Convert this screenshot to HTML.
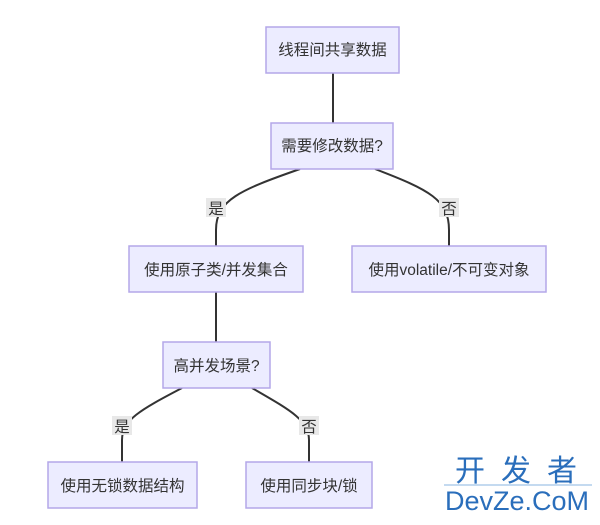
<!DOCTYPE html>
<html><head><meta charset="utf-8"><style>
body{margin:0;background:#fff;}
svg text{font-family:"Liberation Sans","Noto Sans CJK SC",sans-serif;}
</style></head><body>
<svg width="600" height="520" xmlns="http://www.w3.org/2000/svg">
<g fill="none" stroke="#333" stroke-width="2">
<path d="M333,73 V123"/>
<path d="M300,169 C240,190 216,200 216,230 V246"/>
<path d="M375,169 C430,190 449,200 449,230 V246"/>
<path d="M216,292 V342"/>
<path d="M182,388 C140,410 122,420 122,440 V462"/>
<path d="M252,388 C290,410 309,420 309,440 V462"/>
</g>
<g fill="#ececff" stroke="#b4a7e8" stroke-width="1.5">
<rect x="266" y="27" width="133" height="46"/>
<rect x="271" y="123" width="122" height="46"/>
<rect x="129" y="246" width="174" height="46"/>
<rect x="352" y="246" width="194" height="46"/>
<rect x="163" y="342" width="107" height="46"/>
<rect x="48" y="462" width="149" height="46"/>
<rect x="246" y="462" width="126" height="46"/>
</g>
<g fill="#e8e8e8">
<rect x="206" y="198" width="20" height="19"/>
<rect x="439" y="198" width="20" height="19"/>
<rect x="112" y="416" width="20" height="19"/>
<rect x="299" y="416" width="20" height="19"/>
</g>
<g font-size="15.5" fill="#333" text-anchor="middle">
<text x="332.5" y="55">线程间共享数据</text>
<text x="332" y="151">需要修改数据?</text>
<text x="216" y="275">使用原子类/并发集合</text>
<text x="449" y="275">使用volatile/不可变对象</text>
<text x="216.5" y="371">高并发场景?</text>
<text x="122.5" y="491">使用无锁数据结构</text>
<text x="309" y="491">使用同步块/锁</text>
<text x="216" y="214">是</text>
<text x="449" y="214">否</text>
<text x="122" y="432">是</text>
<text x="309" y="432">否</text>
</g>
<g fill="#2a6ebb" text-anchor="middle">
<text x="524" y="481" font-size="30" letter-spacing="16">开发者</text>
<line x1="444" y1="485" x2="592" y2="485" stroke="#8ab4e0" stroke-width="1"/>
<text x="517" y="510" font-size="27">DevZe.CoM</text>
</g>
</svg>
</body></html>
